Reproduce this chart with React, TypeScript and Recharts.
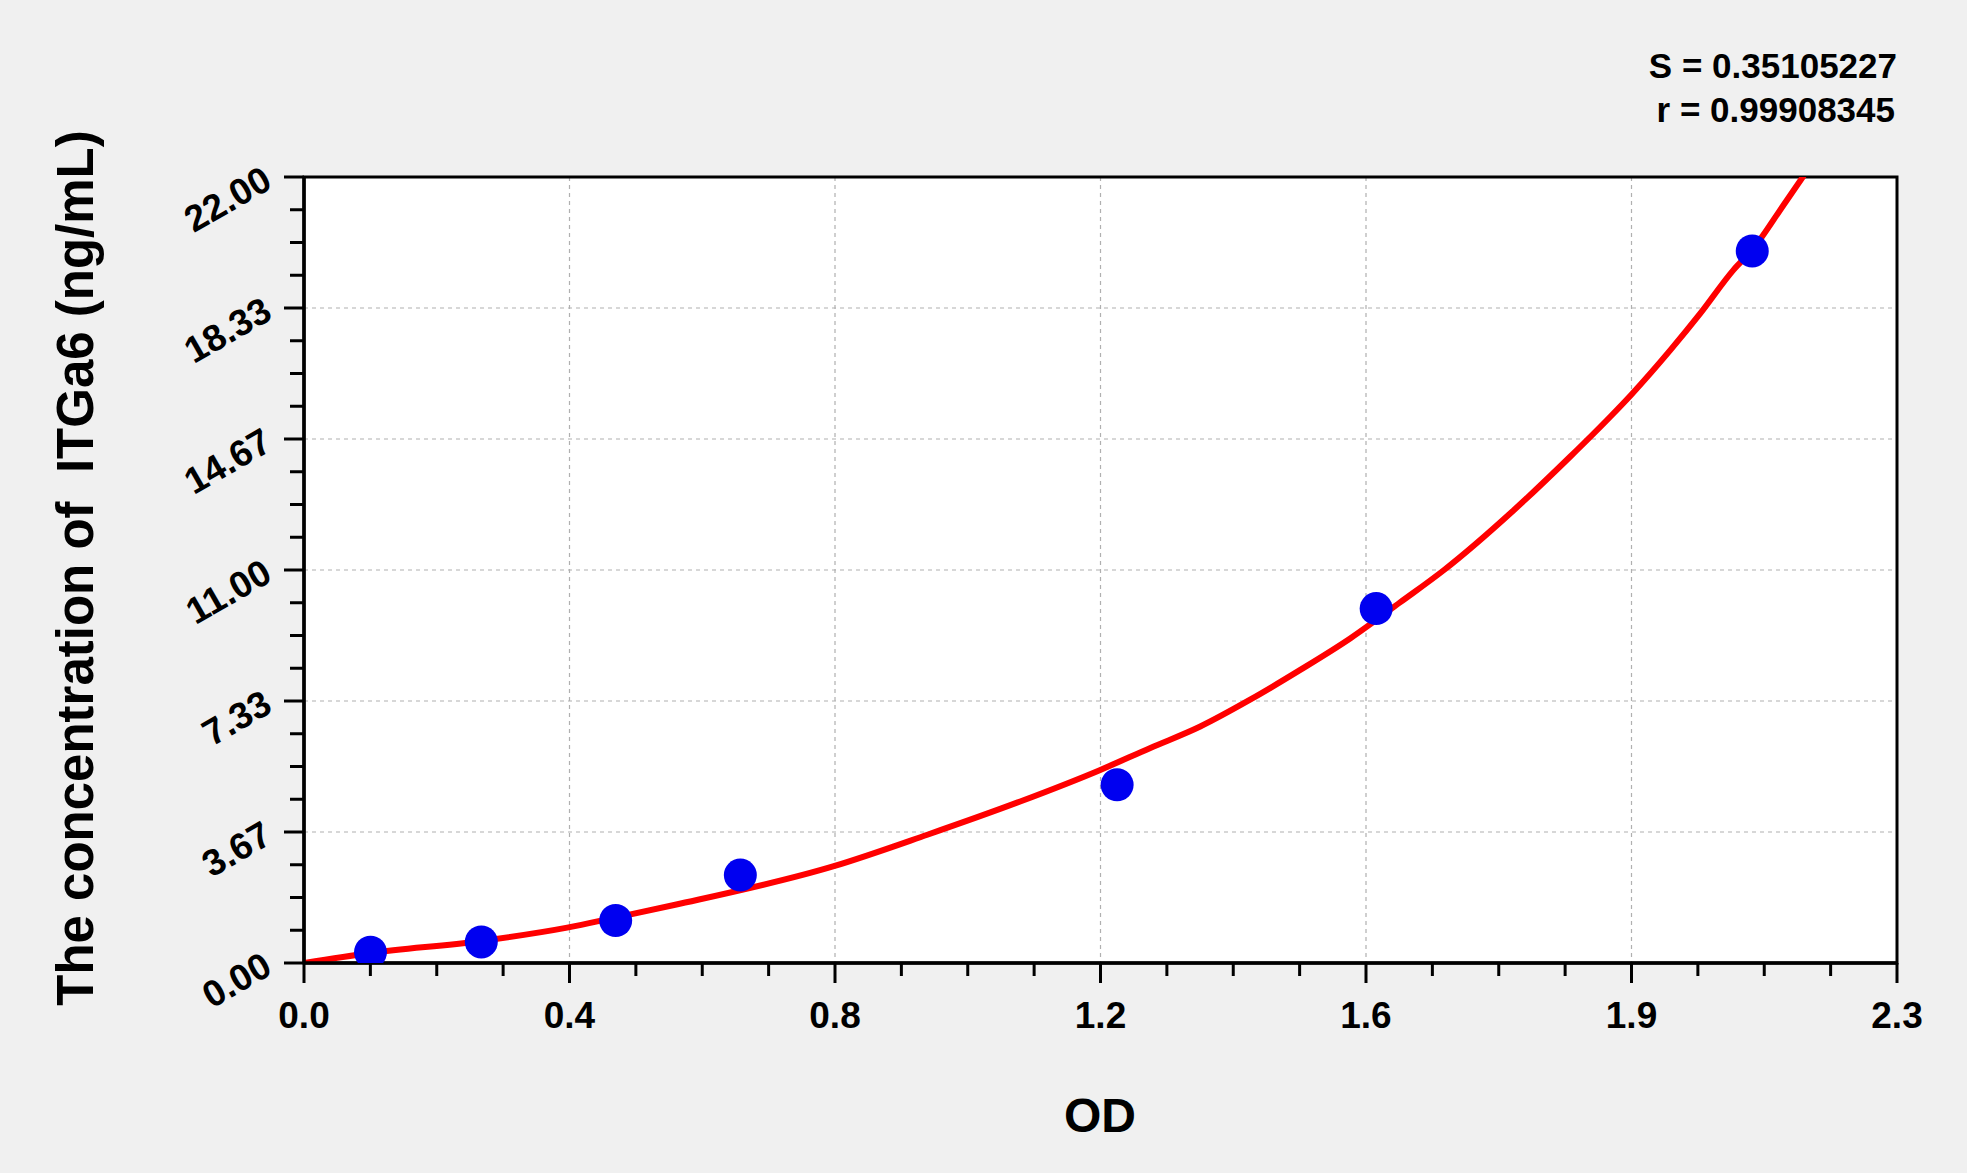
import React from 'react';
import { ComposedChart, Line, Scatter, XAxis, YAxis, CartesianGrid, ReferenceArea } from 'recharts';

// ---- data ----
const stdOD = [0.096, 0.256, 0.45, 0.63, 1.174, 1.548, 2.091];
const stdConc = [0.3, 0.59, 1.19, 2.46, 4.99, 9.92, 19.93];

const curveOD = [0, 0.096, 0.253, 0.38, 0.447, 0.536, 0.765, 0.9, 1.034, 1.148, 1.222, 1.294, 1.366, 1.439, 1.511, 1.583, 1.646, 1.747, 1.828, 1.886, 1.916, 1.973, 2.016, 2.064, 2.091, 2.136, 2.17];
const curveConc = [0, 0.28, 0.61, 0.99, 1.26, 1.63, 2.71, 3.59, 4.52, 5.39, 6.02, 6.62, 7.37, 8.21, 9.09, 10.1, 11.0, 12.68, 14.17, 15.29, 15.9, 17.16, 18.18, 19.4, 19.96, 21.21, 22.17];

const xMajorTicks = [0, 0.38333, 0.76667, 1.15, 1.53333, 1.91667, 2.3];
const xTickLabels = ['0.0', '0.4', '0.8', '1.2', '1.6', '1.9', '2.3'];
const yMajorTicks = [0, 3.66667, 7.33333, 11, 14.66667, 18.33333, 22];
const yTickLabels = ['0.00', '3.67', '7.33', '11.00', '14.67', '18.33', '22.00'];

const statLines = ['S = 0.35105227', 'r = 0.99908345'];
const xTitle = 'OD';
const yTitle = 'The concentration of  ITGa6 (ng/mL)';

// ---- helpers ----
const SUBDIV = 4;
function withMinors(majors: number[]): number[] {
  const out: number[] = [];
  for (let i = 0; i < majors.length; i++) {
    out.push(majors[i]);
    if (i < majors.length - 1) {
      const step = (majors[i + 1] - majors[i]) / SUBDIV;
      for (let k = 1; k < SUBDIV; k++) out.push(majors[i] + k * step);
    }
  }
  return out;
}
const xAllTicks = withMinors(xMajorTicks);
const yAllTicks = withMinors(yMajorTicks);

function majorIndex(majors: number[], v: number): number {
  return majors.findIndex((m) => Math.abs(m - v) < 1e-6);
}

const stdData = stdOD.map((od, i) => ({ od, conc: stdConc[i] }));
const curveData = curveOD.map((od, i) => ({ od, conc: curveConc[i] }));

const FONT = "'Liberation Sans', Arial, Helvetica, sans-serif";
const W = 1967;
const H = 1173;
const Y_AXIS_W = 200;
const X_AXIS_H = 120;

const XTick = (props: any) => {
  const { x, y, payload } = props;
  const mi = majorIndex(xMajorTicks, payload.value);
  const major = mi >= 0;
  return (
    <g>
      <line x1={x} x2={x} y1={y} y2={y + (major ? 20 : 13)} stroke="#000" strokeWidth={3} />
      {major && (
        <text x={x} y={y + 65} textAnchor="middle" fontSize={37} fontWeight="bold" fontFamily={FONT} fill="#000">
          {xTickLabels[mi]}
        </text>
      )}
    </g>
  );
};

const YTick = (props: any) => {
  const { x, y, payload } = props;
  const mi = majorIndex(yMajorTicks, payload.value);
  const major = mi >= 0;
  const ax = x - 30;
  const ay = y + 10;
  return (
    <g>
      <line x1={x - (major ? 20 : 14)} x2={x} y1={y} y2={y} stroke="#000" strokeWidth={3} />
      {major && (
        <text
          x={ax}
          y={ay}
          textAnchor="end"
          fontSize={37}
          fontWeight="bold"
          fontFamily={FONT}
          fill="#000"
          transform={`rotate(-30, ${ax}, ${ay})`}
        >
          {yTickLabels[mi]}
        </text>
      )}
    </g>
  );
};

const Dot = (props: any) => {
  const { cx, cy } = props;
  if (cx == null || cy == null) return null;
  return <circle cx={cx} cy={cy} r={16.5} fill="#0000f0" />;
};

export default function App() {
  return (
    <div style={{ position: 'absolute', left: 0, top: 0, width: W, height: H, background: '#f0f0f0', overflow: 'hidden' }}>
      <ComposedChart
        width={W}
        height={H}
        margin={{ top: 177, right: 70, left: 304 - Y_AXIS_W, bottom: 210 - X_AXIS_H }}
      >
        <CartesianGrid
          fill="#ffffff"
          stroke="#b0b0b0"
          strokeDasharray="4 4"
          strokeWidth={1.2}
          verticalValues={xMajorTicks}
          horizontalValues={yMajorTicks}
        />
        <XAxis
          type="number"
          dataKey="od"
          domain={[0, 2.3]}
          allowDataOverflow
          ticks={xAllTicks}
          interval={0}
          tickSize={0}
          tickMargin={0}
          tickLine={false}
          tick={XTick}
          height={X_AXIS_H}
          axisLine={{ stroke: '#000', strokeWidth: 3.5 }}
        />
        <YAxis
          type="number"
          dataKey="conc"
          domain={[0, 22]}
          allowDataOverflow
          ticks={yAllTicks}
          interval={0}
          tickSize={0}
          tickMargin={0}
          tickLine={false}
          tick={YTick}
          width={Y_AXIS_W}
          axisLine={{ stroke: '#000', strokeWidth: 3.5 }}
        />
        <ReferenceArea x1={0} x2={2.3} y1={0} y2={22} fill="none" stroke="#000" strokeWidth={3} fillOpacity={0} />
        <Scatter data={stdData} dataKey="conc" shape={Dot} isAnimationActive={false} />
        <Line
          data={curveData}
          dataKey="conc"
          type="monotone"
          stroke="#ff0000"
          strokeWidth={6}
          dot={false}
          activeDot={false}
          isAnimationActive={false}
        />
      </ComposedChart>
      <svg width={W} height={H} style={{ position: 'absolute', left: 0, top: 0, pointerEvents: 'none' }}>
        <text x={1897} y={78} textAnchor="end" fontSize={35} fontWeight="bold" fontFamily={FONT} fill="#000" style={{ whiteSpace: 'pre' }}>
          {statLines[0]}
        </text>
        <text x={1895} y={122} textAnchor="end" fontSize={35} fontWeight="bold" fontFamily={FONT} fill="#000" style={{ whiteSpace: 'pre' }}>
          {statLines[1]}
        </text>
        <text x={1100} y={1132} textAnchor="middle" fontSize={48} fontWeight="bold" fontFamily={FONT} fill="#000">
          {xTitle}
        </text>
        <text
          x={93}
          y={568}
          textAnchor="middle"
          fontSize={51}
          fontWeight="bold"
          fontFamily={FONT}
          fill="#000"
          transform="rotate(-90, 93, 568)"
          style={{ whiteSpace: 'pre' }}
        >
          {yTitle}
        </text>
      </svg>
    </div>
  );
}
